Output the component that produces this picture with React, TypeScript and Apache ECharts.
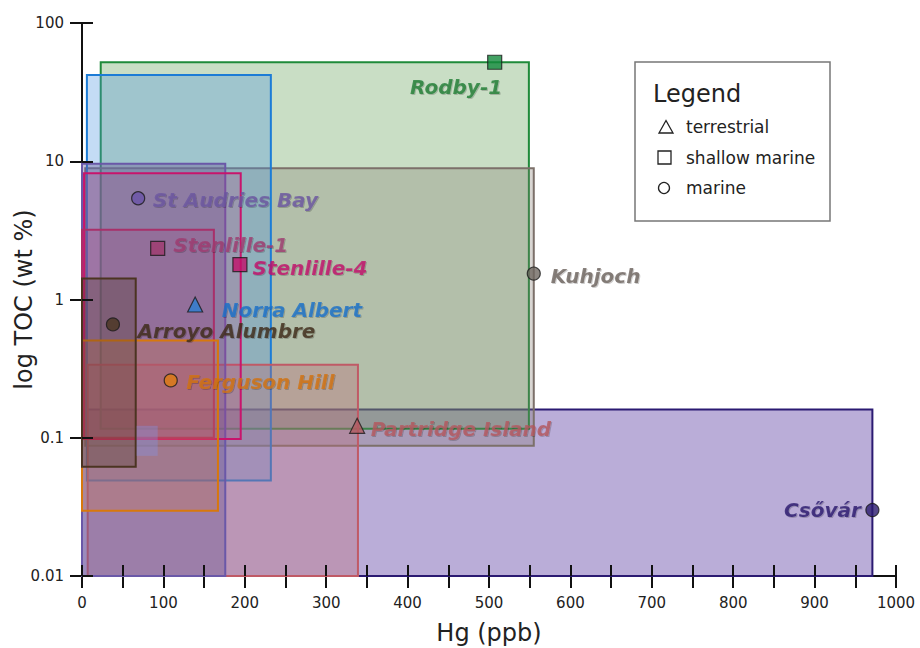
import React, { useEffect, useRef } from 'react';
import * as echarts from 'echarts';

// ---- data (draw order: back to front) ----
const sites = ['Csővár', 'Rodby-1', 'Kuhjoch', 'Norra Albert', 'Partridge Island', 'St Audries Bay', 'Stenlille-4', 'Stenlille-1', 'Ferguson Hill', 'Arroyo Alumbre'];
const hgMin = [0, 23, 4, 6, 7, 0, 2.5, 0, 0, 0];
const hgMax = [971, 549, 555, 232, 339, 176, 195, 162, 167, 66];
const tocMin = [0.01, 0.116, 0.0875, 0.049, 0.01, 0.01, 0.098, 0.1, 0.0296, 0.0617];
const tocMax = [0.16, 52, 8.9, 42, 0.338, 9.6, 8.2, 3.2, 0.505, 1.42];
const hgSample = [971, 507, 555, 139, 338, 69, 194, 93, 109, 38];
const tocSample = [0.03, 52, 1.54, 0.92, 0.122, 5.4, 1.79, 2.34, 0.26, 0.66];
const environment = ['marine', 'shallow marine', 'marine', 'terrestrial', 'terrestrial', 'marine', 'shallow marine', 'shallow marine', 'marine', 'marine'];
// faint unlabeled patch
const patchHg = [67, 93];
const patchToc = [0.074, 0.122];

const legendEntries = ['terrestrial', 'shallow marine', 'marine'];
const xTicks = { min: 0, max: 1000, step: 50 };
const yTicks = { min: 0.01, max: 100 };

// ---- styles ----
const styleMap: Record<string, { stroke: string; fill: string; point: string; text: string; pos: string; offset: number[] }> = {
  'Csővár': { stroke: '#2b1a72', fill: 'rgba(95,65,165,0.43)', point: '#2a1a6e', text: '#2a1c6e', pos: 'left', offset: [0.5, 0] },
  'Rodby-1': { stroke: '#1f8a3a', fill: 'rgba(100,160,90,0.35)', point: '#138a3c', text: '#1e7d34', pos: 'left', offset: [20, 25] },
  'Kuhjoch': { stroke: '#7c706a', fill: 'rgba(128,119,110,0.3)', point: '#6e6660', text: '#6b625c', pos: 'right', offset: [5, 2] },
  'Norra Albert': { stroke: '#1c7cd6', fill: 'rgba(70,145,225,0.32)', point: '#2a7fd4', text: '#1a6fc9', pos: 'right', offset: [13.5, 5] },
  'Partridge Island': { stroke: '#c05a66', fill: 'rgba(190,110,120,0.35)', point: '#b05a60', text: '#b4585f', pos: 'right', offset: [0.5, 3] },
  'St Audries Bay': { stroke: '#6a58a8', fill: 'rgba(110,90,150,0.4)', point: '#6a52a8', text: '#6a56a0', pos: 'right', offset: [2.5, 2] },
  'Stenlille-4': { stroke: '#c8146c', fill: 'rgba(200,50,120,0.18)', point: '#c0106a', text: '#c2126a', pos: 'right', offset: [0, 3] },
  'Stenlille-1': { stroke: '#a8306a', fill: 'rgba(170,60,120,0.2)', point: '#a03a6e', text: '#9f3c70', pos: 'right', offset: [3, -3] },
  'Ferguson Hill': { stroke: '#d8780c', fill: 'rgba(220,120,60,0.25)', point: '#e07c10', text: '#d2720c', pos: 'right', offset: [3.5, 2] },
  'Arroyo Alumbre': { stroke: '#4b3421', fill: 'rgba(80,55,35,0.3)', point: '#4a3520', text: '#3f2c1a', pos: 'right', offset: [12.5, 7] },
};
const symbolFor: Record<string, { symbol: string; size: number }> = {
  terrestrial: { symbol: 'triangle', size: 15 },
  'shallow marine': { symbol: 'rect', size: 14 },
  marine: { symbol: 'circle', size: 13 },
};

const FONT = 'DejaVu Sans';

export default function App() {
  const ref = useRef<HTMLDivElement>(null);
  useEffect(() => {
    document.body.style.margin = '0';
    const chart = echarts.init(ref.current!, null, { renderer: 'svg' });

    const rectData = sites.map((s, i) => ({ name: s, value: [hgMin[i], hgMax[i], tocMin[i], tocMax[i]] }));
    const pointData = sites.map((s, i) => {
      const st = styleMap[s];
      const sym = symbolFor[environment[i]];
      return {
        name: s,
        value: [hgSample[i], tocSample[i]],
        symbol: sym.symbol,
        symbolSize: sym.size,
        itemStyle: { color: st.point, borderColor: '#1a1a1a', borderWidth: 1.2 },
        label: {
          show: true,
          formatter: s,
          position: st.pos,
          distance: 5,
          offset: st.offset,
          color: st.text,
          fontFamily: FONT,
          fontWeight: 'bold',
          fontStyle: 'italic',
          fontSize: 20,
          textShadowColor: 'rgba(0,0,0,0.25)',
          textShadowBlur: 1,
          textShadowOffsetX: 1,
          textShadowOffsetY: 1,
        },
      };
    });

    const axisLineStyle = { color: '#111', width: 2 };
    const yFmt = (v: number) => (v < 1 ? v.toFixed(Math.round(-Math.log10(v))) : String(Math.round(v)));

    const legendX = 635, legendY = 62;
    const graphic: any[] = [
      { type: 'rect', shape: { x: legendX, y: legendY, width: 195, height: 159 }, style: { fill: '#fff', stroke: '#777', lineWidth: 1.5 }, z: 100 },
      { type: 'text', x: 653, y: 94, style: { text: 'Legend', font: `24px "${FONT}"`, fill: '#222', verticalAlign: 'middle' }, z: 101 },
      { type: 'polygon', shape: { points: [[666, 120.5], [673, 133], [659, 133]] }, style: { fill: 'none', stroke: '#222', lineWidth: 1.3 }, z: 101 },
      { type: 'rect', shape: { x: 658, y: 151, width: 13, height: 13 }, style: { fill: 'none', stroke: '#222', lineWidth: 1.3 }, z: 101 },
      { type: 'circle', shape: { cx: 664, cy: 188, r: 5.5 }, style: { fill: 'none', stroke: '#222', lineWidth: 1.3 }, z: 101 },
    ];
    legendEntries.forEach((t, k) => {
      graphic.push({ type: 'text', x: 686, y: 127 + k * 30.5, style: { text: t, font: `17px "${FONT}"`, fill: '#222', verticalAlign: 'middle' }, z: 101 });
    });

    chart.setOption({
      animation: false,
      grid: { left: 82, right: 24, top: 23, bottom: 72, containLabel: false, outerBoundsMode: 'none' },
      xAxis: [
        {
          type: 'value', min: xTicks.min, max: xTicks.max, interval: xTicks.step, position: 'bottom',
          axisLine: { show: true, lineStyle: axisLineStyle },
          axisTick: { show: true, length: 12, lineStyle: axisLineStyle },
          axisLabel: { formatter: (v: number) => (v % 100 === 0 ? String(v) : ''), margin: 19, fontSize: 15, color: '#222', fontFamily: FONT },
          splitLine: { show: false },
          name: 'Hg (ppb)', nameLocation: 'middle', nameGap: 45, nameMoveOverlap: false,
          nameTextStyle: { fontSize: 24, color: '#222', fontFamily: FONT },
        },
        {
          type: 'value', min: xTicks.min, max: xTicks.max, interval: xTicks.step, position: 'bottom', z: 10,
          axisLine: { show: false },
          axisTick: { show: true, inside: true, length: 11, lineStyle: axisLineStyle },
          axisLabel: { show: false }, splitLine: { show: false },
        },
      ],
      yAxis: [
        {
          type: 'log', logBase: 10, min: yTicks.min, max: yTicks.max, position: 'left',
          axisLine: { show: true, lineStyle: axisLineStyle },
          axisTick: { show: true, length: 12, lineStyle: axisLineStyle },
          axisLabel: { formatter: yFmt, margin: 18, fontSize: 15, color: '#222', fontFamily: FONT },
          splitLine: { show: false }, minorTick: { show: false },
          name: 'log TOC (wt %)', nameLocation: 'middle', nameGap: 46, nameMoveOverlap: false,
          nameTextStyle: { fontSize: 24, color: '#222', fontFamily: FONT },
        },
        {
          type: 'log', logBase: 10, min: yTicks.min, max: yTicks.max, position: 'left', z: 10,
          axisLine: { show: false },
          axisTick: { show: true, inside: true, length: 11, lineStyle: axisLineStyle },
          axisLabel: { show: false }, splitLine: { show: false },
        },
      ],
      series: [
        {
          type: 'custom', name: 'ranges', xAxisIndex: 0, yAxisIndex: 0, z: 2,
          encode: { x: [0, 1], y: [2, 3] },
          data: rectData,
          renderItem: (params: any, api: any) => {
            const st = styleMap[sites[params.dataIndex]];
            const p1 = api.coord([api.value(0), api.value(3)]);
            const p2 = api.coord([api.value(1), api.value(2)]);
            return {
              type: 'rect',
              shape: { x: p1[0], y: p1[1], width: p2[0] - p1[0], height: p2[1] - p1[1] },
              style: { fill: st.fill, stroke: st.stroke, lineWidth: 2 },
            };
          },
        },
        {
          type: 'custom', name: 'patch', xAxisIndex: 0, yAxisIndex: 0, z: 2,
          encode: { x: [0, 1], y: [2, 3] },
          data: [[patchHg[0], patchHg[1], patchToc[0], patchToc[1]]],
          renderItem: (params: any, api: any) => {
            const p1 = api.coord([api.value(0), api.value(3)]);
            const p2 = api.coord([api.value(1), api.value(2)]);
            return {
              type: 'rect',
              shape: { x: p1[0], y: p1[1], width: p2[0] - p1[0], height: p2[1] - p1[1] },
              style: { fill: 'rgba(130,150,235,0.35)' },
            };
          },
        },
        {
          type: 'scatter', name: 'sites', xAxisIndex: 0, yAxisIndex: 0, z: 5,
          data: pointData,
        },
      ],
      graphic,
    });
    return () => chart.dispose();
  }, []);
  return <div ref={ref} style={{ width: 920, height: 648 }} />;
}
